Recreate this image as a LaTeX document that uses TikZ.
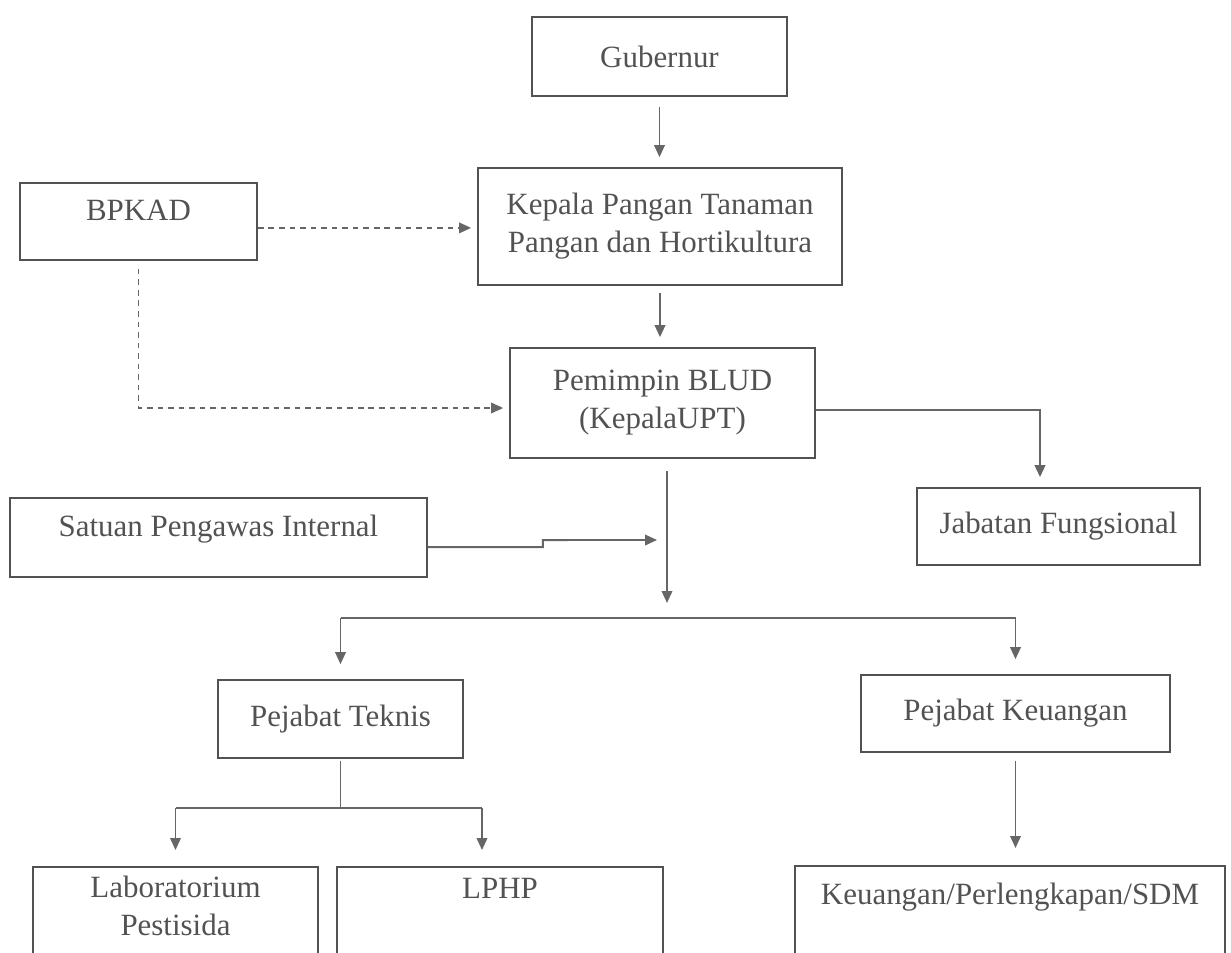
\documentclass[tikz,border=0pt]{standalone}
\usepackage{fontspec}
\setmainfont{Liberation Serif}
\usetikzlibrary{arrows.meta, positioning, calc}
\begin{document}
\begin{tikzpicture}[
    x=0.025cm, y=-0.025cm,
    >={Triangle[width=7.5pt,length=8.5pt]},
    font=\fontsize{22}{27}\selectfont,
    box/.style={draw=black!68, line width=1.2pt, text=black!68, align=center, inner sep=4pt},
    cutbox/.style={box, anchor=north, text depth=2.8cm},
    raised/.style={text height=15pt, text depth=16pt},
    link/.style={line width=1.3pt, black!60},
    arrow/.style={->, link, shorten <=0.25cm, shorten >=0.25cm},
    dasharrow/.style={->, line width=1.1pt, black!60, dash pattern=on 4pt off 3.5pt, shorten >=0.15cm}
  ]
    \useasboundingbox (0,0) rectangle (1231,953);
    \clip (0,0) rectangle (1231,953);
    \node[box, minimum width=6.375cm, minimum height=1.975cm] (gub) at (659.5,56.5) {Gubernur};
    \node[box, minimum width=9.1cm, minimum height=2.925cm] (kepala) at (660,226.5)
    {Kepala Pangan Tanaman\\Pangan dan Hortikultura};
    \node[box, raised, minimum width=5.925cm, minimum height=1.925cm] (bpkad) at (138.5,221.5) {BPKAD};
    \node[box, minimum width=7.625cm, minimum height=2.75cm] (pemimpin) at (662.5,403)
    {Pemimpin BLUD\\(KepalaUPT)};
    \node[box, minimum width=7.075cm, minimum height=1.925cm] (jabatan) at (1058.5,526.5) {Jabatan Fungsional};
    \node[box, raised, minimum width=10.425cm, minimum height=1.975cm] (satuan) at (218.5,537.5) {Satuan Pengawas Internal};
    \node[box, minimum width=6.125cm, minimum height=1.95cm] (teknis) at (340.5,719) {Pejabat Teknis};
    \node[box, minimum width=7.725cm, minimum height=1.925cm] (pkeu) at (1015.5,713.5) {Pejabat Keuangan};
    \node[cutbox, minimum width=7.125cm, inner ysep=6.5pt] (lab) at (175.5,866) {Laboratorium\\Pestisida};
    \node[cutbox, minimum width=8.15cm, inner ysep=8pt] (lphp) at (500,866) {LPHP};
    \node[cutbox, minimum width=10.75cm, inner ysep=12pt] (keu) at (1010,865) {Keuangan/Perlengkapan/SDM};
    \coordinate (hub) at (667,618);
    \coordinate (merge) at (667,540);
    \coordinate (tbar) at (341,808);
    \coordinate (lphpin) at ([xshift=-0.45cm]lphp.north);
    \draw[arrow] (gub.south) -- (gub.south |- kepala.north);
    \draw[arrow, shorten <=0.18cm] (kepala.south) -- (kepala.south |- pemimpin.north);
    \draw[dasharrow] ([yshift=-0.16cm]bpkad.east) -- ([yshift=-0.16cm]bpkad.east -| kepala.west);
    \draw[dasharrow, shorten <=0.2cm] (bpkad.south) |- ([yshift=-0.125cm]pemimpin.west);
    \draw[arrow, shorten <=0pt] ([yshift=-0.175cm]pemimpin.east) -| ([xshift=-0.4625cm]jabatan.north);
    \draw[arrow, shorten <=0.3cm, shorten >=0.375cm] (pemimpin.south -| hub) -- (hub);
    \draw[arrow, shorten <=0pt] ([yshift=-0.24cm]satuan.east) -- ++(115,0) -- ++(0,-7) -- (merge);
    \draw[link] (hub -| teknis.north) -- (hub -| pkeu.north);
    \draw[arrow, shorten <=0pt, shorten >=0.375cm] (hub -| teknis.north) -- (teknis.north);
    \draw[arrow, shorten <=0pt, shorten >=0.375cm] (hub -| pkeu.north) -- (pkeu.north);
    \draw[link] ([yshift=-0.05cm]teknis.south) -- (teknis.south |- tbar);
    \draw[link] (tbar -| lab.north) -- (tbar -| lphpin);
    \draw[arrow, shorten <=0pt, shorten >=0.4cm] (tbar -| lab.north) -- (lab.north);
    \draw[arrow, shorten <=0pt, shorten >=0.4cm] (tbar -| lphpin) -- (lphpin);
    \draw[arrow, shorten <=0.2cm, shorten >=0.425cm] (pkeu.south) -- (pkeu.south |- keu.north);
  \end{tikzpicture}
\end{document}
